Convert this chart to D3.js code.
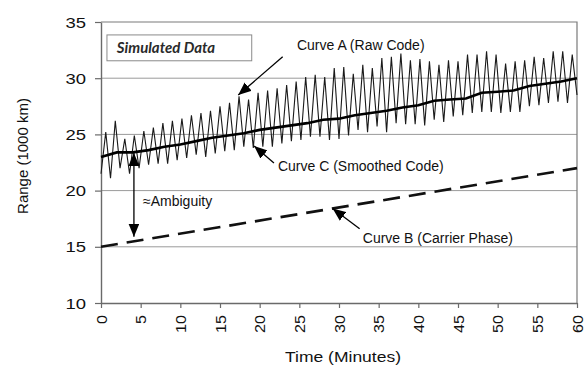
<!DOCTYPE html>
<html>
<head>
<meta charset="utf-8">
<script src="https://cdn.jsdelivr.net/npm/d3@7"></script>
<style>
  body { margin: 0; background: #fff; }
  svg { display: block; font-family: "Liberation Sans", Arial, sans-serif; }
</style>
</head>
<body>
<div id="chart"></div>
<script>
// time ticks (minutes) and range ticks (1000 km)
var timeTicks = [0, 5, 10, 15, 20, 25, 30, 35, 40, 45, 50, 55, 60];
var rangeTicks = [10, 15, 20, 25, 30, 35];

// Curve A (raw code), one sample every 0.6 minutes
var rawStep = 0.6;
var rawCode = [
  21.5, 25.2, 21.1, 26.2, 22.0, 24.6, 21.5, 24.9, 22.0, 25.3,
  22.3, 25.6, 22.4, 26.0, 22.4, 26.2, 22.7, 26.4, 22.9, 26.7,
  23.2, 26.9, 23.0, 27.1, 23.3, 27.5, 23.5, 27.8, 23.6, 28.4,
  23.9, 28.1, 23.8, 28.7, 23.9, 28.9, 23.9, 29.1, 24.2, 29.4,
  24.4, 29.7, 24.5, 30.1, 24.8, 30.3, 24.8, 30.1, 24.5, 30.9,
  24.6, 31.0, 24.9, 30.4, 25.4, 31.2, 25.2, 30.9, 25.7, 31.8,
  25.2, 31.9, 26.0, 32.2, 25.9, 31.6, 25.9, 31.7, 25.8, 31.5,
  26.3, 31.2, 26.1, 31.6, 26.6, 31.5, 26.7, 32.1, 26.9, 32.1,
  27.0, 32.4, 27.0, 32.1, 26.9, 31.3, 27.0, 31.5, 27.0, 31.6,
  27.5, 31.9, 27.6, 31.8, 27.8, 32.4, 27.9, 32.4, 27.8, 32.1,
  28.5
];

// Curve C (smoothed code), every 2 minutes
var smoothStep = 2;
var smoothedCode = [
  23.0, 23.4, 23.4, 23.6, 23.9, 24.1, 24.4, 24.7, 24.9, 25.1,
  25.4, 25.6, 25.8, 26.0, 26.3, 26.4, 26.7, 26.9, 27.1, 27.4,
  27.6, 28.0, 28.1, 28.2, 28.7, 28.8, 28.9, 29.3, 29.5, 29.7,
  30.0
];

// Curve B (carrier phase)
var carrierTimes = [0, 60];
var carrierPhase = [15, 22];

var width = 587, height = 368;
var margin = { top: 22, right: 10, bottom: 65, left: 101 };

var svg = d3.select('#chart').append('svg')
  .attr('width', width)
  .attr('height', height);

var x = d3.scaleLinear().domain([0, 60]).range([margin.left, width - margin.right]);
var y = d3.scaleLinear().domain([10, 35]).range([height - margin.bottom, margin.top]);

// grid lines
svg.append('g')
  .selectAll('line')
  .data(rangeTicks.filter(function (d) { return d > 10 && d < 35; }))
  .enter().append('line')
  .attr('x1', x(0)).attr('x2', x(60))
  .attr('y1', function (d) { return y(d); })
  .attr('y2', function (d) { return y(d); })
  .style('stroke', '#9a9a9a')
  .style('stroke-width', 1);

// top and right frame
svg.append('path')
  .attr('d', 'M' + x(0) + ',' + y(35) + 'H' + x(60) + 'V' + y(10))
  .style('fill', 'none')
  .style('stroke', '#7a7a7a')
  .style('stroke-width', 1.2);

// axes
var yAxis = svg.append('g')
  .attr('transform', 'translate(' + x(0) + ',0)')
  .call(d3.axisLeft(y).tickValues(rangeTicks).tickSize(6).tickSizeOuter(0));
var xAxis = svg.append('g')
  .attr('transform', 'translate(0,' + y(10) + ')')
  .call(d3.axisBottom(x).tickValues(timeTicks).tickSize(5).tickSizeOuter(0));

[yAxis, xAxis].forEach(function (ax) {
  ax.select('.domain').style('stroke', '#6a6a6a').style('stroke-width', 1.4);
  ax.selectAll('.tick line').style('stroke', '#6a6a6a').style('stroke-width', 1.2);
  ax.selectAll('text')
    .style('font-family', '"Liberation Sans", Arial, sans-serif')
    .style('font-size', '14px')
    .style('fill', '#111');
});

yAxis.selectAll('.tick text')
  .attr('x', 0)
  .attr('dy', '0.36em')
  .attr('transform', 'translate(-15,0) scale(1.32,1)');

xAxis.selectAll('.tick text')
  .attr('x', 0).attr('y', 0).attr('dy', '0.36em')
  .style('text-anchor', 'end')
  .attr('transform', 'translate(0,12) rotate(-90) scale(1.15,1)');

// axis titles
svg.append('text')
  .attr('transform', 'translate(343,362) scale(1.13,1)')
  .attr('text-anchor', 'middle')
  .style('font-size', '15.5px')
  .style('fill', '#111')
  .text('Time (Minutes)');

svg.append('text')
  .attr('transform', 'translate(28,156) rotate(-90)')
  .attr('text-anchor', 'middle')
  .style('font-size', '15px')
  .style('fill', '#111')
  .text('Range (1000 km)');

// curves
var line = d3.line()
  .x(function (d) { return x(d[0]); })
  .y(function (d) { return y(d[1]); });

svg.append('path')
  .datum(carrierPhase.map(function (v, i) { return [carrierTimes[i], v]; }))
  .attr('d', line)
  .style('fill', 'none')
  .style('stroke', '#111')
  .style('stroke-width', 2.6)
  .style('stroke-dasharray', '17,9');

svg.append('path')
  .datum(rawCode.map(function (v, i) { return [i * rawStep, v]; }))
  .attr('d', line)
  .style('fill', 'none')
  .style('stroke', '#1a1a1a')
  .style('stroke-width', 1.1)
  .style('stroke-linejoin', 'miter');

svg.append('path')
  .datum(smoothedCode.map(function (v, i) { return [i * smoothStep, v]; }))
  .attr('d', line)
  .style('fill', 'none')
  .style('stroke', '#000')
  .style('stroke-width', 2.6);

// arrow head marker
var defs = svg.append('defs');
defs.append('marker')
  .attr('id', 'head')
  .attr('viewBox', '0 0 12 10')
  .attr('refX', 12).attr('refY', 5)
  .attr('markerWidth', 13).attr('markerHeight', 11)
  .attr('markerUnits', 'userSpaceOnUse')
  .attr('orient', 'auto-start-reverse')
  .append('path')
  .attr('d', 'M0,0L12,5L0,10Z')
  .style('fill', '#000');

function arrow(x1, y1, x2, y2, both) {
  svg.append('line')
    .attr('x1', x(x1)).attr('y1', y(y1))
    .attr('x2', x(x2)).attr('y2', y(y2))
    .style('stroke', '#000')
    .style('stroke-width', 1.3)
    .attr('marker-end', 'url(#head)')
    .attr('marker-start', both ? 'url(#head)' : null);
}

function label(tx, ty, s) {
  svg.append('text')
    .attr('x', x(tx)).attr('y', y(ty))
    .style('font-size', '14px')
    .style('fill', '#111')
    .text(s);
}

// annotation box
svg.append('rect')
  .attr('x', x(0.75)).attr('y', y(33.85))
  .attr('width', x(19) - x(0.75)).attr('height', y(31.55) - y(33.85))
  .style('fill', '#fff')
  .style('stroke', '#8a8a8a')
  .style('stroke-width', 1);
svg.append('text')
  .attr('x', x(2)).attr('y', y(32.25))
  .style('font-family', 'Lato, "Open Sans", sans-serif')
  .style('font-weight', 'bold')
  .style('font-style', 'italic')
  .style('font-size', '15px')
  .style('fill', '#2a2a2a')
  .text('Simulated Data');

label(24.7, 32.5, 'Curve A (Raw Code)');
arrow(22.9, 31.9, 17.3, 28.5);

label(22.3, 21.7, 'Curve C (Smoothed Code)');
arrow(21.8, 22.45, 19.3, 23.97);

label(5.3, 18.6, '\u2248Ambiguity');
arrow(4.15, 23.35, 4.15, 15.9, true);

label(33.0, 15.3, 'Curve B (Carrier Phase)');
arrow(32.6, 16.6, 29.2, 18.4);
</script>
</body>
</html>
